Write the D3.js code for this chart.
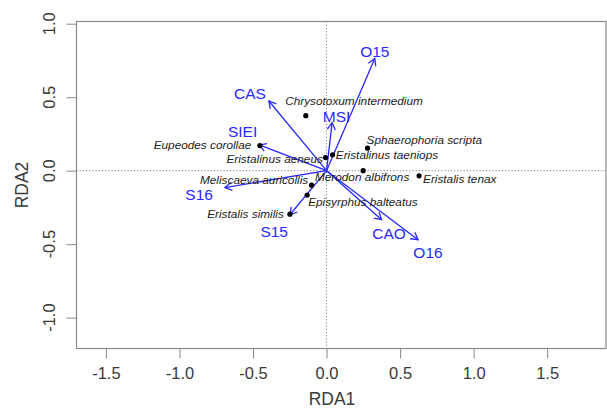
<!DOCTYPE html>
<html>
<head>
<meta charset="utf-8">
<script src="https://cdn.jsdelivr.net/npm/d3@7"></script>
<style>
  html, body { margin: 0; padding: 0; background: #fff; }
  svg { display: block; }
</style>
</head>
<body>
<script>
// Species scores (RDA1, RDA2)
const species = ["Chrysotoxum intermedium", "Eupeodes corollae", "Eristalinus aeneus",
  "Eristalinus taeniops", "Sphaerophoria scripta", "Merodon albifrons", "Eristalis tenax",
  "Meliscaeva auricollis", "Episyrphus balteatus", "Eristalis similis"];
const speciesRDA1 = [-0.141, -0.453, -0.007, 0.041, 0.279, 0.249, 0.629, -0.102, -0.132, -0.249];
const speciesRDA2 = [0.374, 0.171, 0.089, 0.108, 0.153, 0.000, -0.035, -0.099, -0.166, -0.296];
// where each species name sits (in RDA units) and how it is anchored
const speciesLabelRDA1 = [0.187, -0.511, -0.025, 0.063, 0.272, 0.242, 0.656, -0.125, -0.125, -0.290];
const speciesLabelRDA2 = [0.475, 0.178, 0.080, 0.105, 0.208, -0.040, -0.058, -0.063, -0.215, -0.296];
const speciesAnchor = ["middle", "end", "end", "start", "start", "middle", "start", "end", "start", "end"];

// Explanatory variables (biplot arrows)
const variables = ["O15", "CAS", "MSI", "SIEI", "S16", "S15", "CAO", "O16"];
const varRDA1 = [0.328, -0.392, 0.038, -0.458, -0.691, -0.249, 0.374, 0.622];
const varRDA2 = [0.764, 0.474, 0.327, 0.175, -0.115, -0.300, -0.334, -0.470];
const varLabelRDA1 = [0.328, -0.521, 0.068, -0.571, -0.866, -0.356, 0.425, 0.690];
const varLabelRDA2 = [0.809, 0.527, 0.368, 0.266, -0.160, -0.414, -0.425, -0.556];

// Axes
const xTicks = [-1.5, -1.0, -0.5, 0.0, 0.5, 1.0, 1.5];
const yTicks = [-1.0, -0.5, 0.0, 0.5, 1.0];
const xDomain = [-1.7, 1.9];
const yDomain = [-1.21, 1.015];

const W = 607, H = 408;
const box = { left: 76.5, right: 606, top: 21.5, bottom: 348.5 };

const svg = d3.select("body").append("svg").attr("width", W).attr("height", H);

const x = d3.scaleLinear().domain(xDomain).range([box.left, box.right]);
const y = d3.scaleLinear().domain(yDomain).range([box.bottom, box.top]);

const fmt = d => d.toFixed(1);
const textCol = "#3a3a3a";
const axisCol = "#8a8a8a";
const blue = "#2828ff";

// zero reference lines
svg.append("line")
  .attr("x1", x(0)).attr("x2", x(0)).attr("y1", box.top).attr("y2", box.bottom)
  .attr("stroke", "#666").attr("stroke-width", 1).attr("stroke-dasharray", "1,2.2");
svg.append("line")
  .attr("y1", y(0)).attr("y2", y(0)).attr("x1", box.left).attr("x2", box.right)
  .attr("stroke", "#666").attr("stroke-width", 1).attr("stroke-dasharray", "1,2.2");

// bottom axis
const gx = svg.append("g").attr("transform", `translate(0,${box.bottom})`)
  .call(d3.axisBottom(x).tickValues(xTicks).tickFormat(fmt).tickSize(10).tickPadding(8.5));
gx.select(".domain").remove();
gx.selectAll(".tick line").attr("stroke", axisCol);
gx.selectAll(".tick text").attr("fill", textCol)
  .style("font-family", "Liberation Sans, Arial, sans-serif").style("font-size", "16.5px");

// left axis with rotated labels
const gy = svg.append("g").attr("transform", `translate(${box.left},0)`)
  .call(d3.axisLeft(y).tickValues(yTicks).tickFormat(fmt).tickSize(10));
gy.select(".domain").remove();
gy.selectAll(".tick line").attr("stroke", axisCol);
gy.selectAll(".tick text").remove();
svg.append("g").selectAll("text").data(yTicks).join("text")
  .attr("transform", d => `translate(55,${y(d)}) rotate(-90)`)
  .attr("text-anchor", "middle")
  .attr("fill", textCol)
  .style("font-family", "Liberation Sans, Arial, sans-serif").style("font-size", "16.5px")
  .text(fmt);

// plot frame
svg.append("rect")
  .attr("x", box.left).attr("y", box.top)
  .attr("width", box.right - box.left).attr("height", box.bottom - box.top)
  .attr("fill", "none").attr("stroke", axisCol).attr("stroke-width", 1.2);

// axis titles
svg.append("text").attr("x", 332).attr("y", 405).attr("text-anchor", "middle")
  .attr("fill", textCol)
  .style("font-family", "Liberation Sans, Arial, sans-serif").style("font-size", "17.5px")
  .text("RDA1");
svg.append("text").attr("transform", `translate(28,${(box.top + box.bottom) / 2}) rotate(-90)`)
  .attr("text-anchor", "middle").attr("fill", textCol)
  .style("font-family", "Liberation Sans, Arial, sans-serif").style("font-size", "17.5px")
  .text("RDA2");

// species points
const sp = species.map((name, i) => ({
  name, px: speciesRDA1[i], py: speciesRDA2[i],
  lx: speciesLabelRDA1[i], ly: speciesLabelRDA2[i], anchor: speciesAnchor[i]
}));

// biplot arrows
const vars = variables.map((name, i) => ({
  name, vx: varRDA1[i], vy: varRDA2[i], lx: varLabelRDA1[i], ly: varLabelRDA2[i]
}));

const arrows = svg.append("g");
vars.forEach(v => {
  const x0 = x(0), y0 = y(0), x1 = x(v.vx), y1 = y(v.vy);
  const ang = Math.atan2(y1 - y0, x1 - x0);
  const head = 8, spread = Math.PI / 6;
  arrows.append("line")
    .attr("x1", x0).attr("y1", y0).attr("x2", x1).attr("y2", y1)
    .attr("stroke", blue).attr("stroke-width", 1.3);
  arrows.append("path")
    .attr("d", `M${x1 - head * Math.cos(ang - spread)},${y1 - head * Math.sin(ang - spread)}` +
      `L${x1},${y1}L${x1 - head * Math.cos(ang + spread)},${y1 - head * Math.sin(ang + spread)}`)
    .attr("fill", "none").attr("stroke", blue).attr("stroke-width", 1.3);
});

svg.append("g").selectAll("circle").data(sp).join("circle")
  .attr("cx", d => x(d.px)).attr("cy", d => y(d.py)).attr("r", 2.6).attr("fill", "#000");

svg.append("g").selectAll("text").data(sp).join("text")
  .attr("x", d => x(d.lx)).attr("y", d => y(d.ly))
  .attr("dy", "0.35em")
  .attr("text-anchor", d => d.anchor)
  .attr("fill", "#222")
  .style("font-family", "Liberation Sans, Arial, sans-serif")
  .style("font-style", "italic").style("font-size", "11.8px")
  .text(d => d.name);

svg.append("g").selectAll("text").data(vars).join("text")
  .attr("x", d => x(d.lx)).attr("y", d => y(d.ly))
  .attr("dy", "0.36em")
  .attr("text-anchor", "middle")
  .attr("fill", blue)
  .style("font-family", "Liberation Sans, Arial, sans-serif").style("font-size", "15.5px")
  .text(d => d.name);
</script>
</body>
</html>
